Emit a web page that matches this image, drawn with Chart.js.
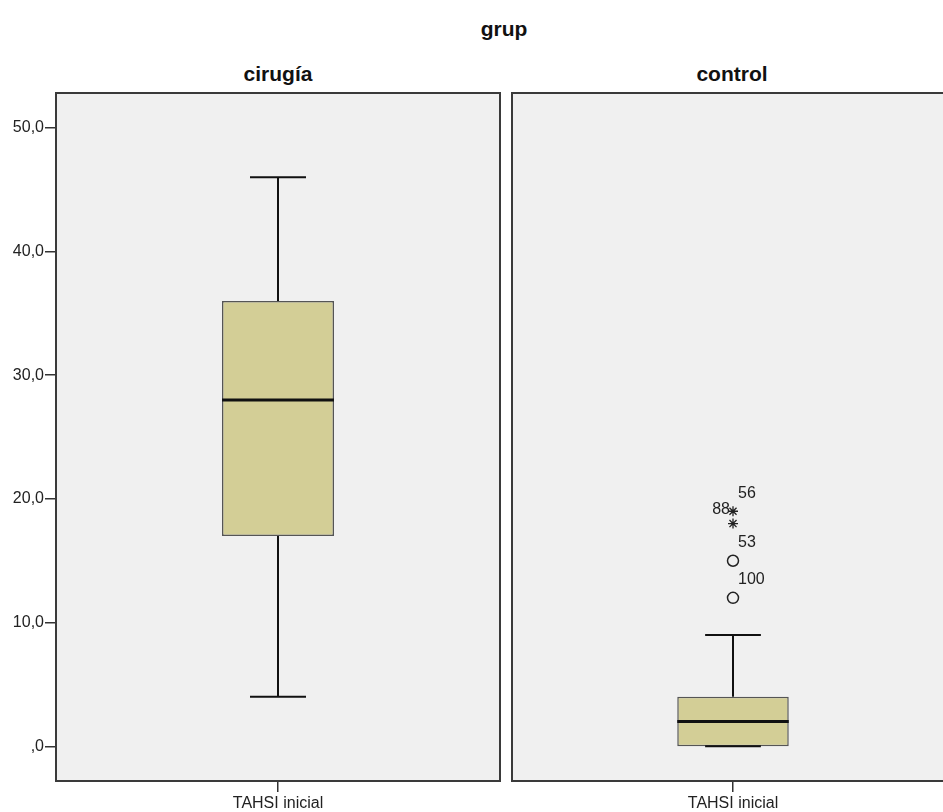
<!DOCTYPE html>
<html><head><meta charset="utf-8">
<script src="https://cdn.jsdelivr.net/npm/chart.js@4.4.1/dist/chart.umd.min.js"></script>
<style>
html,body{margin:0;padding:0;background:#fff;}
body{width:943px;height:812px;overflow:hidden;position:relative;font-family:"Liberation Sans",Arial,sans-serif;}
.t{position:absolute;font-weight:bold;color:#111;transform:translate(-50%,-50%);white-space:nowrap;font-size:21px;line-height:1;}
canvas{position:absolute;top:0;}
</style>
</head><body>
<div class="t" style="left:504px;top:28px">grup</div>
<div class="t" id="g0" style="left:278px;top:73px"></div>
<div class="t" id="g1" style="left:732px;top:73px"></div>
<canvas id="c0" width="505" height="812" style="left:0"></canvas>
<canvas id="c1" width="460" height="812" style="left:505px"></canvas>
<script>
// ---- data ----
const groups = ['cirugía', 'control'];
const variableLabel = ['TAHSI inicial'];
const whiskerLow  = [4, 0];
const q1          = [17, 0];
const median      = [28, 2];
const q3          = [36, 4];
const whiskerHigh = [46, 9];
// outliers (circles) and extremes (stars) for each group, with case ids
const outlierValues = [[], [12, 15]];
const outlierIds    = [[], ['100', '53']];
const extremeValues = [[], [18, 19]];
const extremeIds    = [[], ['88', '56']];
const tickValues = [0, 10, 20, 30, 40, 50];
const tickLabels = [',0', '10,0', '20,0', '30,0', '40,0', '50,0'];

// ---- rendering ----
const PLOT_BG = '#F0F0F0';
const FRAME = '#3a3a3a';
const BOX_FILL = '#D3CE96';
const FONT = '"Liberation Sans", Arial, sans-serif';

const framePlugin = {
  id: 'frame',
  beforeDraw(chart) {
    const a = chart.chartArea, ctx = chart.ctx;
    ctx.save();
    ctx.fillStyle = PLOT_BG;
    ctx.fillRect(a.left, a.top, a.right - a.left, a.bottom - a.top);
    ctx.restore();
  },
  afterDraw(chart) {
    const a = chart.chartArea, ctx = chart.ctx;
    ctx.save();
    ctx.strokeStyle = FRAME;
    ctx.lineWidth = 2;
    ctx.strokeRect(a.left, a.top, a.right - a.left, a.bottom - a.top);
    ctx.restore();
  }
};

const boxPlugin = {
  id: 'boxWhiskers',
  afterDatasetsDraw(chart) {
    const g = chart.options.plugins.boxWhiskers.group;
    const ctx = chart.ctx, ys = chart.scales.y;
    const bar = chart.getDatasetMeta(0).data[0];
    const x = bar.x, bw = bar.width, cap = bw / 2;
    const yHi = ys.getPixelForValue(whiskerHigh[g]);
    const yQ3 = ys.getPixelForValue(q3[g]);
    const yQ1 = ys.getPixelForValue(q1[g]);
    const yLo = ys.getPixelForValue(whiskerLow[g]);
    const yMed = ys.getPixelForValue(median[g]);
    ctx.save();
    ctx.strokeStyle = '#111';
    ctx.lineWidth = 2;
    ctx.beginPath();
    ctx.moveTo(x, yQ3); ctx.lineTo(x, yHi);
    ctx.moveTo(x - cap / 2, yHi); ctx.lineTo(x + cap / 2, yHi);
    ctx.moveTo(x, yQ1); ctx.lineTo(x, yLo);
    ctx.moveTo(x - cap / 2, yLo); ctx.lineTo(x + cap / 2, yLo);
    ctx.stroke();
    ctx.lineWidth = 3;
    ctx.beginPath();
    ctx.moveTo(x - bw / 2, yMed); ctx.lineTo(x + bw / 2, yMed);
    ctx.stroke();
    ctx.restore();
  }
};

const idLabelPlugin = {
  id: 'idLabels',
  afterDatasetsDraw(chart) {
    const g = chart.options.plugins.idLabels.group;
    const ctx = chart.ctx;
    ctx.save();
    ctx.font = '16px ' + FONT;
    ctx.fillStyle = '#222';
    ctx.textBaseline = 'middle';
    const draw = (dsIndex, ids, sides) => {
      const meta = chart.getDatasetMeta(dsIndex);
      meta.data.forEach((pt, i) => {
        if (sides[i] === 'left') {
          ctx.textAlign = 'right';
          ctx.fillText(ids[i], pt.x - 3, pt.y - 14);
        } else {
          ctx.textAlign = 'left';
          ctx.fillText(ids[i], pt.x + 5, pt.y - 18);
        }
      });
    };
    draw(1, outlierIds[g], outlierIds[g].map(() => 'right'));
    draw(2, extremeIds[g], extremeValues[g].map((v, i) => (i === 0 && extremeValues[g].length > 1) ? 'left' : 'right'));
    ctx.restore();
  }
};

function makeChart(canvasId, g, showY) {
  document.getElementById('g' + g).textContent = groups[g];
  const cat = variableLabel[0];
  return new Chart(document.getElementById(canvasId), {
    type: 'bar',
    data: {
      labels: variableLabel,
      datasets: [
        {
          data: [[q1[g], q3[g]]],
          backgroundColor: BOX_FILL,
          borderColor: '#555',
          borderWidth: 1.5,
          borderSkipped: false,
          barPercentage: 112 / 444,
          categoryPercentage: 1
        },
        {
          type: 'line', showLine: false,
          data: outlierValues[g].map(v => ({ x: cat, y: v })),
          pointStyle: 'circle', pointRadius: 5.5,
          pointBorderWidth: 1.5, pointBorderColor: '#222',
          pointBackgroundColor: 'rgba(0,0,0,0)'
        },
        {
          type: 'line', showLine: false,
          data: extremeValues[g].map(v => ({ x: cat, y: v })),
          pointStyle: 'star', pointRadius: 5,
          pointBorderWidth: 1.3, pointBorderColor: '#222',
          pointBackgroundColor: 'rgba(0,0,0,0)'
        }
      ]
    },
    options: {
      responsive: false,
      animation: false,
      devicePixelRatio: 1,
      layout: { padding: { left: showY ? 0 : 5, right: showY ? 5 : 11, top: 93, bottom: 0 } },
      plugins: {
        legend: { display: false },
        tooltip: { enabled: false },
        boxWhiskers: { group: g },
        idLabels: { group: g }
      },
      scales: {
        x: {
          type: 'category',
          offset: true,
          grid: { offset: false, drawOnChartArea: false, tickLength: 11, color: '#333', lineWidth: 1.5 },
          border: { display: false },
          ticks: { color: '#222', font: { family: FONT, size: 16 }, padding: 2 },
          afterFit(scale) { scale.height = 31; }
        },
        y: {
          display: showY,
          min: -2.8, max: 52.8,
          grid: { drawOnChartArea: false, tickLength: 11, color: '#333', lineWidth: 1.5 },
          border: { display: false },
          ticks: {
            color: '#222', font: { family: FONT, size: 16 }, padding: 1,
            callback: (v) => { const k = tickValues.indexOf(v); return k >= 0 ? tickLabels[k] : ''; }
          },
          afterBuildTicks(scale) { scale.ticks = tickValues.map(v => ({ value: v })); },
          afterFit(scale) { scale.width = showY ? 56 : 0; }
        }
      }
    },
    plugins: [framePlugin, boxPlugin, idLabelPlugin]
  });
}

makeChart('c0', 0, true);
makeChart('c1', 1, false);
</script>
</body></html>
